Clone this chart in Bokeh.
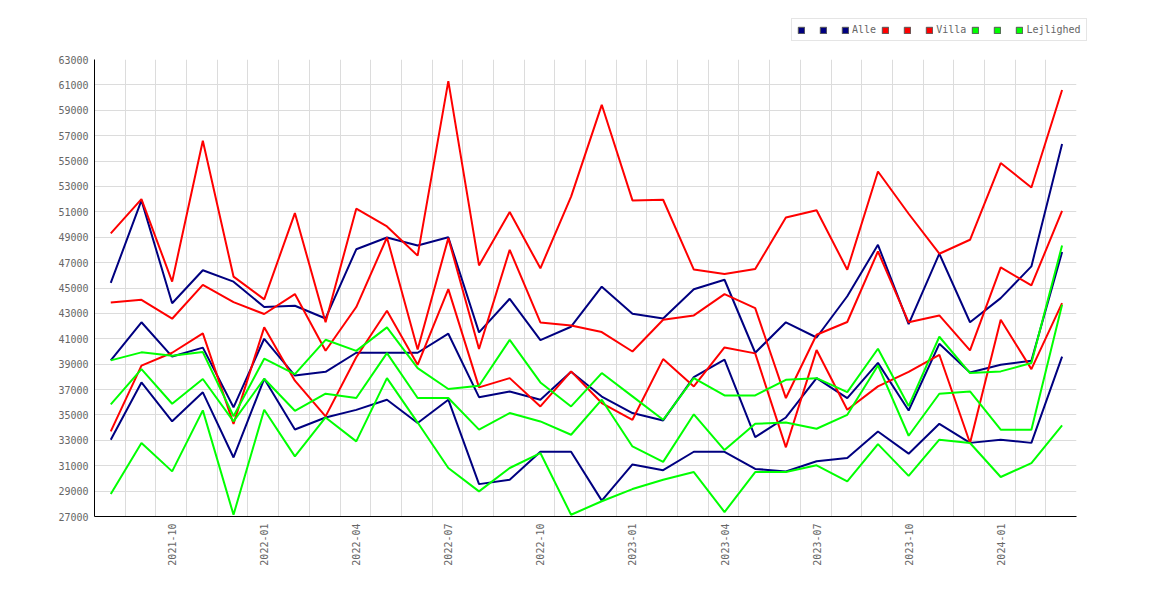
import math
from bokeh.plotting import figure
from bokeh.layouts import column
from bokeh.models import Range1d, FixedTicker, Legend, LegendItem
from bokeh.embed import file_html
from bokeh.resources import INLINE

months = ["2021-08", "2021-09", "2021-10", "2021-11", "2021-12",
          "2022-01", "2022-02", "2022-03", "2022-04", "2022-05", "2022-06",
          "2022-07", "2022-08", "2022-09", "2022-10", "2022-11", "2022-12",
          "2023-01", "2023-02", "2023-03", "2023-04", "2023-05", "2023-06",
          "2023-07", "2023-08", "2023-09", "2023-10", "2023-11", "2023-12",
          "2024-01", "2024-02", "2024-03"]

alle_hi = [45400, 51900, 43800, 46400, 45500, 43500, 43600, 42600, 48050, 48980,
           48350, 49000, 41500, 44150, 40900, 41950, 45100, 42970, 42600, 44900,
           45650, 39900, 42300, 41100, 44350, 48400, 42150, 47700, 42300, 44200,
           46700, 56350]
alle_mid = [39300, 42300, 39600, 40300, 35600, 41000, 38100, 38400, 39900, 39900,
            39900, 41400, 36400, 36850, 36200, 38400, 36450, 35150, 34570, 37980,
            39350, 33250, 34800, 37900, 36330, 39100, 35350, 40600, 38350, 38950,
            39270, 47830]
alle_lo = [33050, 37560, 34500, 36780, 31650, 37850, 33850, 34800, 35400, 36200,
           34360, 36200, 29550, 29900, 32100, 32100, 28250, 31100, 30650, 32100,
           32100, 30750, 30550, 31350, 31600, 33700, 31950, 34300, 32800, 33050,
           32800, 39600]

villa_hi = [49300, 52000, 45500, 56600, 45900, 44100, 50900, 42300, 51250, 49850,
            47550, 61300, 46780, 50980, 46550, 52200, 59430, 51900, 51950, 46450,
            46100, 46490, 50560, 51130, 46440, 54180, 50850, 47700, 48800, 54840,
            52920, 60600]
villa_mid = [43860, 44070, 42580, 45250, 43890, 42950, 44520, 40060, 43500, 48980,
             40150, 48930, 40190, 48010, 42290, 42050, 41530, 40000, 42500, 42840,
             44520, 43420, 36330, 41320, 42320, 47880, 42300, 42840, 40080, 46620,
             45200, 51080]
villa_lo = [33700, 38880, 39900, 41420, 34300, 41900, 37700, 34890, 39550, 43210,
            38950, 44910, 37170, 37900, 35670, 38430, 35940, 34620, 39400, 37250,
            40320, 39850, 32450, 40110, 35410, 37250, 38400, 39740, 32790, 42500,
            38610, 43810]

lejl_hi = [39300, 39930, 39660, 39950, 34900, 39430, 38220, 40920, 40050, 41900,
           38690, 37040, 37300, 40920, 37560, 35670, 38300, 36460, 34620, 37900,
           36540, 36540, 37770, 37900, 36800, 40215, 35700, 41160, 38300, 38430,
           39090, 48350]
lejl_mid = [35830, 38610, 35880, 37830, 34500, 37850, 35330, 36670, 36330, 39870,
            36330, 36330, 33840, 35150, 34490, 33440, 36200, 32520, 31300, 35050,
            32230, 34300, 34410, 33915, 35010, 38900, 33360, 36670, 36850, 33840,
            33840, 43680]
lejl_lo = [28770, 32790, 30555, 35360, 27140, 35410, 31740, 34800, 32920, 37900,
           34400, 30820, 28980, 30820, 32000, 27140, 28200, 29160, 29900, 30500,
           27350, 30500, 30500, 31030, 29770, 32700, 30200, 33050, 32790, 30110,
           31210, 34180]

label_months = [2, 5, 8, 11, 14, 17, 20, 23, 26, 29]
y_ticks = list(range(27000, 63001, 2000))

NAVY = "#000080"
RED = "#ff0000"
GREEN = "#00ff00"
FONT = "DejaVu Sans Mono"

x = list(range(len(months)))

# ---- main chart ----
p = figure(width=1160, height=548, output_backend="svg", toolbar_location=None,
           x_range=Range1d(-0.53, 31.47), y_range=Range1d(27000, 63000),
           min_border_left=94, min_border_right=84, min_border_top=17,
           min_border_bottom=74)
p.outline_line_color = None
p.background_fill_color = "white"
p.border_fill_color = "white"

p.yaxis.ticker = FixedTicker(ticks=y_ticks)
p.xaxis.ticker = FixedTicker(ticks=label_months)
p.xaxis.major_label_overrides = {i: months[i] for i in label_months}
p.xaxis.major_label_orientation = math.pi / 2
for ax in (p.xaxis, p.yaxis):
    ax.axis_line_color = "black"
    ax.axis_line_width = 1
    ax.major_tick_line_color = None
    ax.minor_tick_line_color = None
    ax.major_tick_out = 0
    ax.major_tick_in = 0
    ax.major_label_text_font = FONT
    ax.major_label_text_font_size = "10px"
    ax.major_label_text_color = "#666666"
p.yaxis.major_label_standoff = 6
p.xaxis.major_label_standoff = 7

p.xgrid.ticker = FixedTicker(ticks=[k + 0.47 for k in range(-1, 32)])
p.xgrid.grid_line_color = "#dcdcdc"
p.ygrid.grid_line_color = "#dcdcdc"

LW = 2
groups = (("Alle", NAVY, (alle_hi, alle_mid, alle_lo)),
          ("Villa", RED, (villa_hi, villa_mid, villa_lo)),
          ("Lejlighed", GREEN, (lejl_hi, lejl_mid, lejl_lo)))
for name, col, series_list in groups:
    for series in series_list:
        p.line(x, series, line_color=col, line_width=LW)

# ---- legend strip above the chart ----
lg = figure(width=1160, height=42, output_backend="svg", toolbar_location=None,
            x_range=Range1d(-0.53, 31.47), y_range=Range1d(27000, 63000),
            x_axis_location=None, y_axis_location=None,
            min_border_left=0, min_border_right=0, min_border_top=0,
            min_border_bottom=0)
lg.grid.visible = False
lg.outline_line_color = None
lg.background_fill_color = "white"
lg.border_fill_color = "white"

items = []
for name, col, series_list in groups:
    for k, series in enumerate(series_list):
        # hidden area glyph, only used for the square legend swatch
        sw = lg.quad(left=x, right=x, top=series, bottom=series, fill_color=col,
                     line_color="#555555", line_width=1, visible=False)
        items.append(LegendItem(label=name if k == 2 else "\u00a0",
                                renderers=[sw]))

legend = Legend(items=items, orientation="horizontal", location=(791, 1),
                glyph_width=8, glyph_height=8, label_height=10, label_width=0,
                label_standoff=3, spacing=5, padding=5, margin=0,
                label_text_font=FONT, label_text_font_size="10px",
                label_text_color="#666666", border_line_color="#cccccc",
                border_line_width=1, background_fill_color="white",
                background_fill_alpha=1.0, inactive_fill_alpha=0.0)
lg.add_layout(legend, "center")

layout = column(column(lg), p, spacing=0)
open("out.html", "w").write(file_html(layout, INLINE))
